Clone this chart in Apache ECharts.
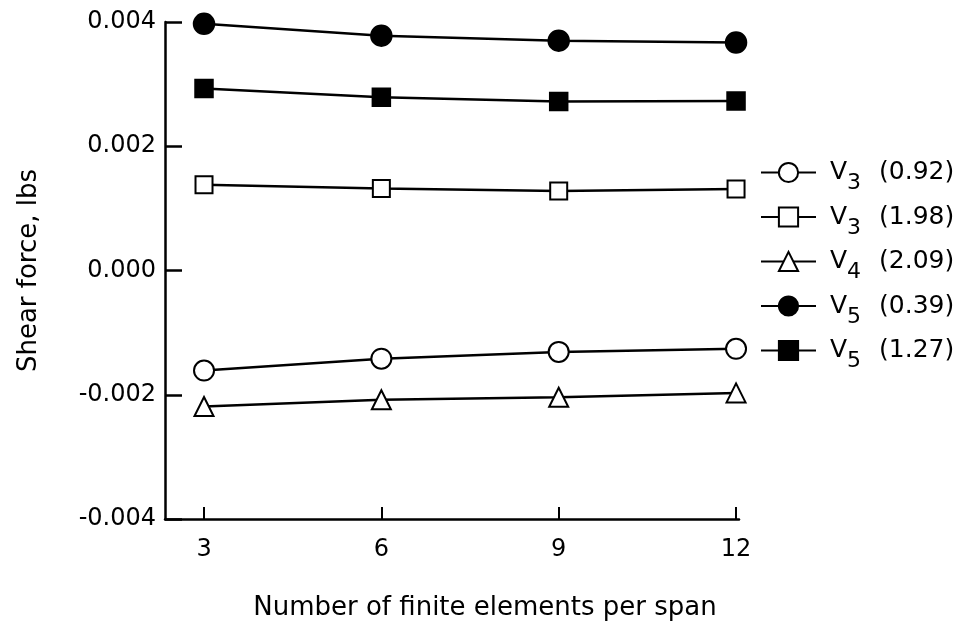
<!DOCTYPE html>
<html>
<head>
<meta charset="utf-8">
<script src="https://cdn.jsdelivr.net/npm/echarts@6/dist/echarts.min.js"></script>
<style>
html,body{margin:0;padding:0;background:#fff;}
#chart{width:961px;height:626px;}
</style>
</head>
<body>
<div id="chart"></div>
<script>
// Data
const elements = [3, 6, 9, 12];
const xTickValues = [3, 6, 9, 12];
const yTickValues = [-0.004, -0.002, 0.000, 0.002, 0.004];
const yTickLabels = ['-0.004', '-0.002', '0.000', '0.002', '0.004'];

const seriesNames = ['V3 (0.92)', 'V3 (1.98)', 'V4 (2.09)', 'V5 (0.39)', 'V5 (1.27)'];
const legendSub = ['3', '3', '4', '5', '5'];
const legendParam = ['(0.92)', '(1.98)', '(2.09)', '(0.39)', '(1.27)'];

const v3_092 = [-0.00161, -0.00142, -0.00131, -0.00126];
const v3_198 = [0.00138, 0.00132, 0.00128, 0.00131];
const v4_209 = [-0.00219, -0.00208, -0.00204, -0.00197];
const v5_039 = [0.00397, 0.00378, 0.00370, 0.00367];
const v5_127 = [0.00293, 0.00279, 0.00272, 0.00273];

const seriesValues = [v3_092, v3_198, v4_209, v5_039, v5_127];
const seriesSymbols = ['emptyCircle', 'emptyRect', 'emptyTriangle', 'circle', 'rect'];
const seriesSymbolSizes = [20, 17, 19, 20, 17];

const FONT = 'DejaVu Sans';

const chart = echarts.init(document.getElementById('chart'), null, {renderer: 'canvas'});

const series = seriesNames.map((name, i) => ({
  name: name,
  type: 'line',
  data: elements.map((x, j) => [x, seriesValues[i][j]]),
  symbol: seriesSymbols[i],
  symbolSize: seriesSymbolSizes[i],
  showSymbol: true,
  animation: false,
  color: '#000',
  lineStyle: {color: '#000', width: 2.5},
  itemStyle: {color: '#000', borderColor: '#000', borderWidth: 2.5},
  emphasis: {disabled: true}
}));

const option = {
  backgroundColor: '#fff',
  animation: false,
  textStyle: {fontFamily: FONT, color: '#000'},
  grid: {left: 165, right: 222, top: 22, bottom: 107, containLabel: false, outerBoundsMode: 'none'},
  legend: {
    orient: 'vertical',
    left: 755,
    top: 155,
    itemWidth: 55,
    itemHeight: 24,
    itemGap: 10,
    data: seriesNames,
    selectedMode: false,
    formatter: function (name) {
      const i = seriesNames.indexOf(name);
      return '{v|V}{s|' + legendSub[i] + '}{p|' + legendParam[i] + '}';
    },
    textStyle: {
      fontFamily: FONT,
      color: '#000',
      rich: {
        v: {fontFamily: FONT, fontSize: 25, color: '#000', padding: [0, 0, 0, 9]},
        s: {fontFamily: FONT, fontSize: 22, color: '#000', padding: [22, 0, 0, 0]},
        p: {fontFamily: FONT, fontSize: 25, color: '#000', padding: [0, 0, 0, 18]}
      }
    }
  },
  xAxis: {
    type: 'value',
    min: 2.34,
    max: 12.05,
    name: 'Number of finite elements per span',
    nameLocation: 'middle',
    nameGap: 76,
    nameTextStyle: {fontFamily: FONT, fontSize: 26, color: '#000', padding: [0, 0, 0, 66]},
    axisLine: {show: true, onZero: false, lineStyle: {color: '#000', width: 2.5}},
    axisTick: {show: true, inside: true, length: 12, customValues: xTickValues, lineStyle: {color: '#000', width: 2}},
    axisLabel: {show: true, customValues: xTickValues, margin: 19, fontFamily: FONT, fontSize: 24, color: '#000'},
    splitLine: {show: false}
  },
  yAxis: {
    type: 'value',
    min: -0.004,
    max: 0.004,
    interval: 0.002,
    name: 'Shear force, lbs',
    nameLocation: 'middle',
    nameGap: 123,
    nameRotate: 90,
    nameTextStyle: {fontFamily: FONT, fontSize: 26, color: '#000'},
    axisLine: {show: true, onZero: false, lineStyle: {color: '#000', width: 2.5}},
    axisTick: {show: true, inside: true, length: 17, lineStyle: {color: '#000', width: 2.5}},
    axisLabel: {
      show: true, margin: 9, fontFamily: FONT, fontSize: 24, color: '#000',
      formatter: function (v) {
        let best = 0;
        for (let k = 1; k < yTickValues.length; k++) {
          if (Math.abs(yTickValues[k] - v) < Math.abs(yTickValues[best] - v)) best = k;
        }
        return yTickLabels[best];
      }
    },
    splitLine: {show: false}
  },
  series: series
};

chart.setOption(option);
</script>
</body>
</html>
